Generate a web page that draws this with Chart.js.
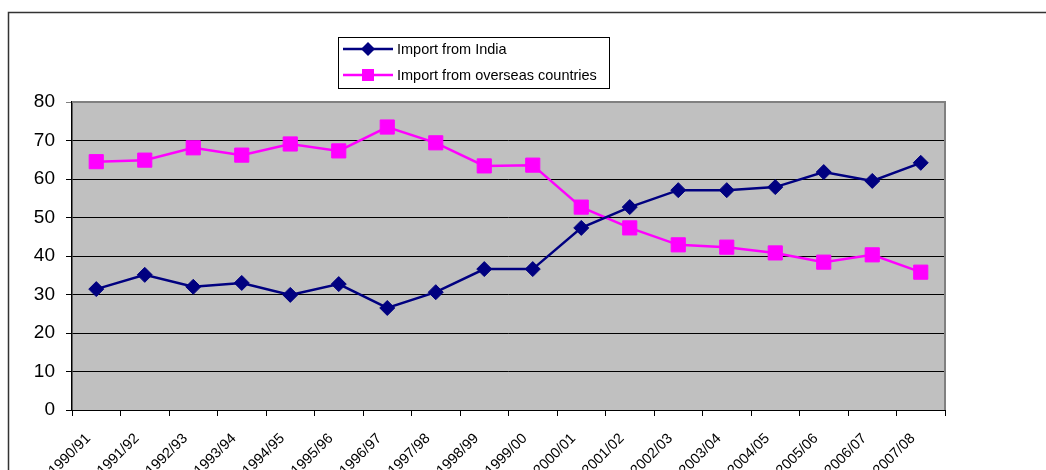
<!DOCTYPE html>
<html>
<head>
<meta charset="utf-8">
<script src="https://cdn.jsdelivr.net/npm/chart.js@4"></script>
<style>
  body { margin: 0; background: #fff; }
  #wrap { width: 1046px; height: 470px; }
</style>
</head>
<body>
<div id="wrap"><canvas id="importChart" width="1046" height="470"></canvas></div>
<script>
// --- dados ---
const years = ['1990/91', '1991/92', '1992/93', '1993/94', '1994/95', '1995/96', '1996/97', '1997/98', '1998/99',
    '1999/00', '2000/01', '2001/02', '2002/03', '2003/04', '2004/05', '2005/06', '2006/07', '2007/08'];
const importIndia = [31.4, 35.1, 32.0, 33.0, 29.9, 32.7, 26.5, 30.6, 36.6, 36.6, 47.3, 52.7, 57.1, 57.1, 57.9, 61.8, 59.5, 64.2];
const importOverseas = [64.5, 64.9, 68.1, 66.2, 69.1, 67.3, 73.5, 69.4, 63.4, 63.6, 52.7, 47.3, 42.9, 42.3, 40.8, 38.4, 40.3, 35.8];
const yTicks = [0, 10, 20, 30, 40, 50, 60, 70, 80];

const FONT = 'Arial, "Liberation Sans", sans-serif';

// fundo cinza + moldura externa + legenda em caixa
const frame = {
    id: 'frame',
    beforeDraw(chart) {
        const { ctx, chartArea: a } = chart;
        ctx.save();
        ctx.fillStyle = '#fff';
        ctx.fillRect(0, 0, chart.width, chart.height);
        ctx.strokeStyle = '#333';
        ctx.lineWidth = 1.5;
        ctx.strokeRect(8.5, 12.5, 1200, 600);
        ctx.fillStyle = '#c0c0c0';
        ctx.fillRect(a.left, a.top, a.right - a.left, a.bottom - a.top);
        ctx.restore();
    },
    afterDatasetsDraw(chart) {
        const { ctx, chartArea: a } = chart;
        ctx.save();
        ctx.strokeStyle = '#808080';
        ctx.lineWidth = 2;
        ctx.beginPath();
        ctx.moveTo(a.left, a.top);
        ctx.lineTo(a.right, a.top);
        ctx.lineTo(a.right, a.bottom);
        ctx.stroke();

        // legenda
        ctx.fillStyle = '#fff';
        ctx.fillRect(338, 37, 271, 51);
        ctx.strokeStyle = '#000';
        ctx.lineWidth = 1;
        ctx.strokeRect(338.5, 37.5, 271, 51);
        chart.data.datasets.forEach((ds, i) => {
            const y = 49 + i * 26;
            ctx.strokeStyle = ds.borderColor;
            ctx.lineWidth = 2.5;
            ctx.beginPath();
            ctx.moveTo(343, y);
            ctx.lineTo(393, y);
            ctx.stroke();
            ctx.fillStyle = ds.backgroundColor;
            ctx.beginPath();
            if (ds.pointStyle === 'rectRot') {
                ctx.moveTo(368 - 7, y); ctx.lineTo(368, y - 7); ctx.lineTo(368 + 7, y); ctx.lineTo(368, y + 7);
            } else {
                ctx.rect(362, y - 6, 12, 12);
            }
            ctx.closePath();
            ctx.fill();
            ctx.fillStyle = '#000';
            ctx.font = '14.5px ' + FONT;
            ctx.textBaseline = 'middle';
            ctx.fillText(ds.label, 397, y + 1);
        });
        ctx.restore();
    }
};

new Chart(document.getElementById('importChart'), {
    type: 'line',
    data: {
        labels: years,
        datasets: [
            { label: 'Import from India', data: importIndia, borderColor: '#000080', backgroundColor: '#000080',
              borderWidth: 2.5, pointStyle: 'rectRot', pointRadius: 7.5, pointBorderWidth: 1, tension: 0 },
            { label: 'Import from overseas countries', data: importOverseas, borderColor: '#ff00ff', backgroundColor: '#ff00ff',
              borderWidth: 2.5, pointStyle: 'rect', pointRadius: 10, pointBorderWidth: 1, tension: 0 }
        ]
    },
    options: {
        responsive: false, animation: false,
        layout: { padding: { left: 0, top: 102, right: 101, bottom: 0 } },
        plugins: { legend: { display: false }, tooltip: { enabled: false } },
        scales: {
            x: {
                offset: true,
                grid: { offset: true, drawOnChartArea: false, color: '#000', tickLength: 6 },
                border: { color: '#000', width: 1 },
                ticks: { autoSkip: false, maxRotation: 45, minRotation: 45, color: '#000', padding: 14, labelOffset: -8,
                         font: { size: 14.5, family: FONT } },
                afterFit(s) { s.height = 60; }
            },
            y: {
                min: 0, max: 80,
                afterBuildTicks(s) { s.ticks = yTicks.map(v => ({ value: v })); },
                grid: { color: c => (c.tick && c.tick.value === 80 ? '#808080' : '#000'), tickLength: 6, lineWidth: 1 },
                border: { color: '#000', width: 1.5 },
                ticks: { color: '#000', padding: 11, font: { size: 19, family: FONT } },
                afterFit(s) { s.width = 72; }
            }
        }
    },
    plugins: [frame]
});
</script>
</body>
</html>
